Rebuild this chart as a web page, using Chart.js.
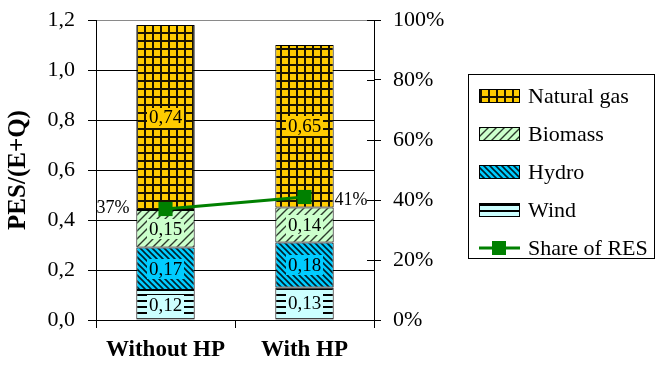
<!DOCTYPE html>
<html>
<head>
<meta charset="utf-8">
<script src="https://cdn.jsdelivr.net/npm/chart.js@4.4.1/dist/chart.umd.min.js"></script>
<style>
  html, body { margin: 0; padding: 0; background: #fff; }
  #wrap { width: 659px; height: 370px; position: relative; }
</style>
</head>
<body>
<div id="wrap"><canvas id="c" width="659" height="370"></canvas></div>
<script>
// Primary energy per unit of delivered energy, by source
const categories = ['Without HP', 'With HP'];
const naturalGas = [0.74, 0.65];
const biomass    = [0.15, 0.14];
const hydro      = [0.17, 0.18];
const wind       = [0.12, 0.13];
// Share of renewable sources, percent
const shareRES   = [37, 41];

const SERIF = "'Liberation Serif', 'Times New Roman', serif";

// Fill patterns for the stacked segments
function makePattern(size, bg, draw) {
  const c = document.createElement('canvas');
  c.width = size; c.height = size;
  const x = c.getContext('2d');
  x.fillStyle = bg;
  x.fillRect(0, 0, size, size);
  draw(x, size);
  return x.createPattern(c, 'repeat');
}
const gasPattern = makePattern(8, '#FFCC00', (x, s) => {
  x.fillStyle = '#1a1400';
  x.fillRect(0, 0, s, 2);
  x.fillRect(0, 0, 2, s);
});
const biomassPattern = makePattern(8, '#CCFFCC', (x, s) => {
  x.strokeStyle = '#2c3a2c';
  x.lineWidth = 1.4;
  x.beginPath();
  x.moveTo(-1, s + 1); x.lineTo(s + 1, -1);
  x.moveTo(-1, 1); x.lineTo(1, -1);
  x.moveTo(s - 1, s + 1); x.lineTo(s + 1, s - 1);
  x.stroke();
});
const hydroPattern = makePattern(6, '#00CCFF', (x, s) => {
  x.strokeStyle = '#00202a';
  x.lineWidth = 1.6;
  x.beginPath();
  x.moveTo(-1, -1); x.lineTo(s + 1, s + 1);
  x.moveTo(s - 1, -1); x.lineTo(s + 1, 1);
  x.moveTo(-1, s - 1); x.lineTo(1, s + 1);
  x.stroke();
});
const windPattern = makePattern(6, '#CCFFFF', (x, s) => {
  x.fillStyle = '#000';
  x.fillRect(0, 0, s, 2);
});

const fmt = v => v.toFixed(2).replace('.', ',');

// Value labels centred on each stacked segment, with a solid backing box
const segmentLabels = {
  id: 'segmentLabels',
  afterDatasetsDraw(chart) {
    const ctx = chart.ctx;
    ctx.save();
    ctx.font = '19px ' + SERIF;
    ctx.textAlign = 'center';
    ctx.textBaseline = 'middle';
    chart.data.datasets.forEach((ds, di) => {
      if (ds.type !== 'bar') return;
      const meta = chart.getDatasetMeta(di);
      meta.data.forEach((el, i) => {
        const txt = fmt(ds.data[i]);
        const cx = el.x;
        const cy = (el.y + el.base) / 2;
        const w = ctx.measureText(txt).width + 4;
        const h = 20;
        ctx.fillStyle = ds.labelBg;
        ctx.fillRect(Math.round(cx - w / 2), Math.round(cy - h / 2), Math.round(w), h);
        ctx.fillStyle = '#000';
        ctx.fillText(txt, cx, cy + 1);
      });
    });
    // percentage labels beside the share points
    const li = chart.data.datasets.findIndex(d => d.type === 'line');
    const lmeta = chart.getDatasetMeta(li);
    ctx.font = '18px ' + SERIF;
    lmeta.data.forEach((pt, i) => {
      const txt = shareRES[i] + '%';
      if (i === 0) {
        ctx.textAlign = 'right';
        ctx.fillText(txt, pt.x - 36, pt.y - 1);
      } else {
        ctx.textAlign = 'left';
        ctx.fillText(txt, pt.x + 30, pt.y + 3);
      }
    });
    ctx.restore();
  }
};

// Inner half of the right-axis tick marks
const rightTicks = {
  id: 'rightTicks',
  afterDraw(chart) {
    const s = chart.scales.y1;
    const ctx = chart.ctx;
    ctx.save();
    ctx.strokeStyle = '#000';
    ctx.lineWidth = 1;
    s.ticks.forEach(t => {
      const y = Math.round(s.getPixelForValue(t.value)) + 0.5;
      ctx.beginPath();
      ctx.moveTo(s.left - 7, y);
      ctx.lineTo(s.left, y);
      ctx.stroke();
    });
    ctx.restore();
  }
};

// Boxed legend on the right, listing series top-to-bottom as stacked
const boxLegend = {
  id: 'boxLegend',
  afterDraw(chart) {
    const ctx = chart.ctx;
    ctx.save();
    ctx.strokeStyle = '#000';
    ctx.lineWidth = 1;
    ctx.strokeRect(468.5, 74.5, 186, 184);
    const bars = chart.data.datasets.filter(d => d.type === 'bar').slice().reverse();
    const line = chart.data.datasets.find(d => d.type === 'line');
    const items = bars.concat([line]);
    ctx.font = '22px ' + SERIF;
    ctx.textBaseline = 'middle';
    ctx.textAlign = 'left';
    items.forEach((d, i) => {
      const y = 96 + i * 38;
      if (d.type === 'bar') {
        ctx.fillStyle = d.backgroundColor;
        ctx.fillRect(479, y - 7, 41, 14);
        ctx.strokeRect(479.5, y - 6.5, 40, 13);
      } else {
        ctx.strokeStyle = d.borderColor;
        ctx.lineWidth = 3;
        ctx.beginPath();
        ctx.moveTo(479, y); ctx.lineTo(520, y);
        ctx.stroke();
        ctx.fillStyle = d.borderColor;
        ctx.fillRect(492, y - 7, 14, 14);
        ctx.strokeStyle = '#000';
        ctx.lineWidth = 1;
      }
      ctx.fillStyle = '#000';
      ctx.fillText(d.label, 528, y + 1);
    });
    ctx.restore();
  }
};

const barCommon = {
  type: 'bar',
  borderColor: '#000',
  borderWidth: 1,
  borderSkipped: false,
  barPercentage: 0.42,
  categoryPercentage: 1.0,
  yAxisID: 'y',
  stack: 'pes'
};

new Chart(document.getElementById('c'), {
  data: {
    labels: categories,
    datasets: [
      Object.assign({}, barCommon, { label: 'Wind', data: wind, backgroundColor: windPattern, labelBg: '#CCFFFF', order: 2 }),
      Object.assign({}, barCommon, { label: 'Hydro', data: hydro, backgroundColor: hydroPattern, labelBg: '#00CCFF', order: 2 }),
      Object.assign({}, barCommon, { label: 'Biomass', data: biomass, backgroundColor: biomassPattern, labelBg: '#CCFFCC', order: 2 }),
      Object.assign({}, barCommon, { label: 'Natural gas', data: naturalGas, backgroundColor: gasPattern, labelBg: '#FFCC00', order: 2 }),
      {
        type: 'line',
        label: 'Share of RES',
        data: shareRES,
        yAxisID: 'y1',
        borderColor: '#008000',
        backgroundColor: '#008000',
        borderWidth: 3,
        pointStyle: 'rect',
        pointRadius: 10,
        pointBorderWidth: 0,
        pointBackgroundColor: '#008000',
        fill: false,
        order: 1
      }
    ]
  },
  options: {
    responsive: false,
    animation: false,
    devicePixelRatio: 1,
    layout: { padding: { top: 20, right: 0, left: 0, bottom: 0 } },
    plugins: { legend: { display: false }, tooltip: { enabled: false } },
    scales: {
      x: {
        type: 'category',
        offset: true,
        stacked: true,
        grid: { offset: true, drawOnChartArea: false, drawTicks: true, tickLength: 8, color: '#000' },
        border: { color: '#000', width: 1 },
        ticks: { color: '#000', font: { family: SERIF, size: 23, weight: 'bold' }, padding: 8, maxRotation: 0, autoSkip: false },
        afterFit: s => { s.height = 50; s.paddingLeft = 0; s.paddingRight = 0; }
      },
      y: {
        position: 'left',
        stacked: true,
        min: 0,
        max: 1.2,
        ticks: {
          stepSize: 0.2,
          color: '#000',
          font: { family: SERIF, size: 22 },
          padding: 13,
          callback: v => Number(v).toFixed(1).replace('.', ',')
        },
        grid: {
          color: c => (c.tick && Math.abs(c.tick.value - 1.2) < 1e-6) ? '#8a8a8a' : '#000',
          tickColor: '#000',
          tickLength: 8,
          lineWidth: 1
        },
        border: { color: '#000', width: 1 },
        title: {
          display: true,
          text: 'PES/(E+Q)',
          color: '#000',
          font: { family: SERIF, size: 25, weight: 'bold' },
          padding: { top: 4, bottom: 0 }
        },
        afterFit: s => { s.width = 96; s.paddingTop = 0; s.paddingBottom = 0; }
      },
      y1: {
        position: 'right',
        min: 0,
        max: 100,
        ticks: {
          stepSize: 20,
          color: '#000',
          font: { family: SERIF, size: 22 },
          padding: 12,
          callback: v => v + '%'
        },
        grid: { drawOnChartArea: false, tickLength: 7, color: '#000' },
        border: { color: '#000', width: 1 },
        afterFit: s => { s.width = 285; s.paddingTop = 0; s.paddingBottom = 0; }
      }
    }
  },
  plugins: [segmentLabels, rightTicks, boxLegend]
});
</script>
</body>
</html>
